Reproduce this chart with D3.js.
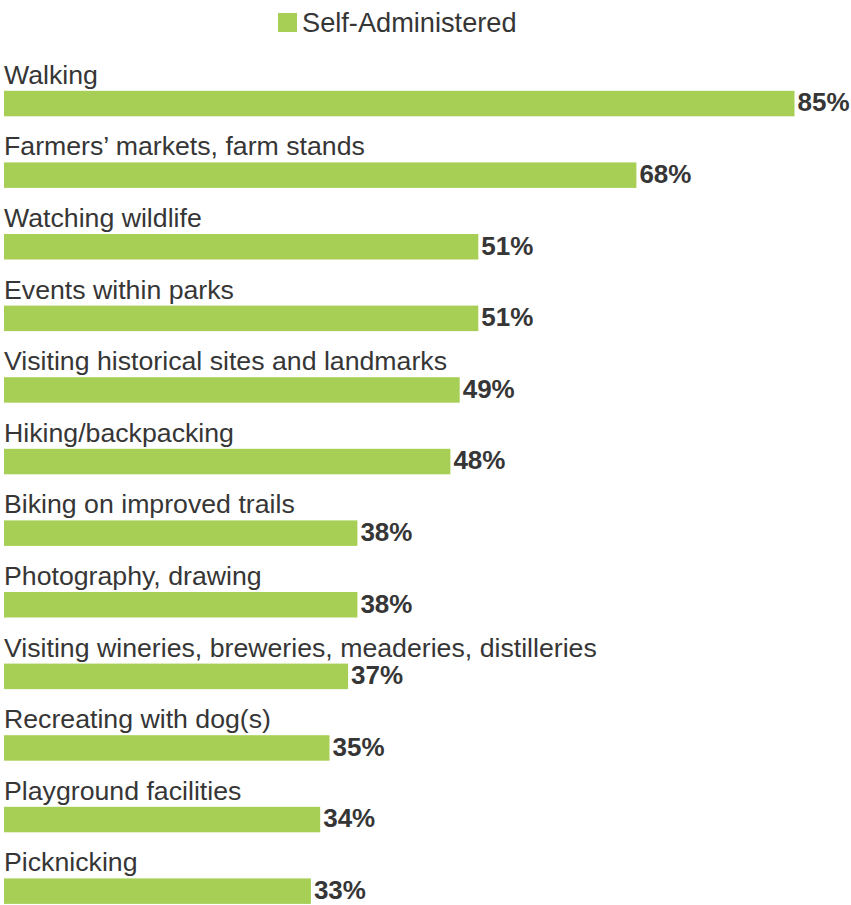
<!DOCTYPE html>
<html>
<head>
<meta charset="utf-8">
<script src="https://cdn.jsdelivr.net/npm/d3@7"></script>
<style>
  html, body { margin: 0; padding: 0; background: #ffffff; }
  svg { display: block; }
  text { font-family: "Liberation Sans", Arial, Helvetica, sans-serif; }
</style>
</head>
<body>
<svg id="chart" width="851" height="905"></svg>
<script>
const categories = [
  "Walking",
  "Farmers’ markets, farm stands",
  "Watching wildlife",
  "Events within parks",
  "Visiting historical sites and landmarks",
  "Hiking/backpacking",
  "Biking on improved trails",
  "Photography, drawing",
  "Visiting wineries, breweries, meaderies, distilleries",
  "Recreating with dog(s)",
  "Playground facilities",
  "Picknicking"
];
const values = [85, 68, 51, 51, 49, 48, 38, 38, 37, 35, 34, 33];
const seriesName = "Self-Administered";
const barColor = "#a8cf55";
const textColor = "#363636";

const svg = d3.select("#chart");

const x = d3.scaleLinear().domain([0, 100]).range([4, 934]);
const y = d3.scaleBand().domain(categories).range([55.4, 55.4 + 71.6 * categories.length]).padding(0);

const data = categories.map((c, i) => ({ cat: c, val: values[i] }));
const barOffset = 35.4, barH = 25.5;

// legend
const lg = svg.append("g").attr("class", "legend");
lg.append("rect").attr("x", 278).attr("y", 13).attr("width", 19).attr("height", 19).attr("fill", barColor);
lg.append("text").attr("x", 302).attr("y", 32).attr("font-size", 27.2).attr("fill", textColor).text(seriesName);

const rows = svg.append("g").selectAll("g").data(data).join("g");

rows.append("text")
  .attr("x", 4)
  .attr("y", d => y(d.cat) + barOffset - 7)
  .attr("font-size", 26.7)
  .attr("fill", textColor)
  .text(d => d.cat);

rows.append("rect")
  .attr("x", x(0))
  .attr("y", d => y(d.cat) + barOffset)
  .attr("width", d => x(d.val) - x(0))
  .attr("height", barH)
  .attr("fill", barColor);

rows.append("text")
  .attr("x", d => x(d.val) + 3)
  .attr("y", d => y(d.cat) + barOffset + 20.5)
  .attr("font-size", 26)
  .attr("font-weight", "bold")
  .attr("fill", textColor)
  .text(d => d.val + "%");
</script>
</body>
</html>
